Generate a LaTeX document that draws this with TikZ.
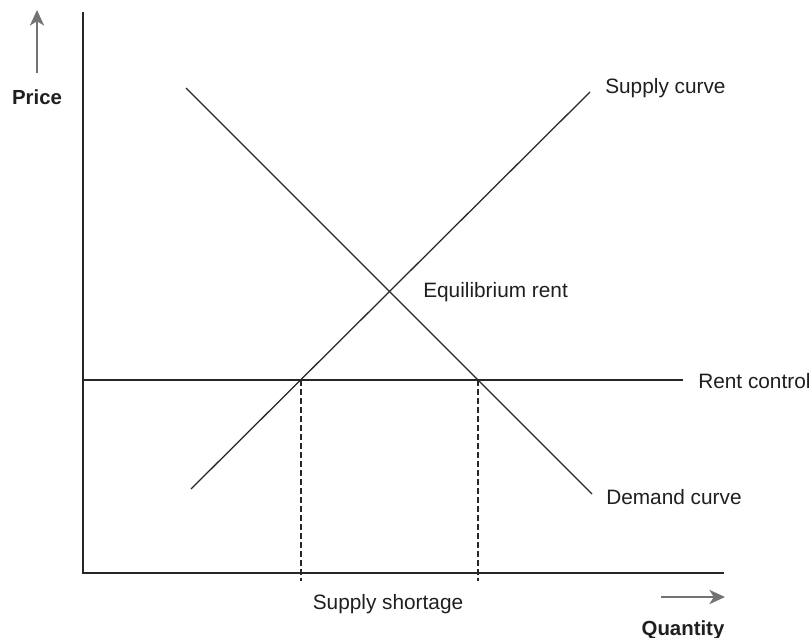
\documentclass[tikz,border=0pt]{standalone}
\usepackage{fontspec}
\setmainfont{Liberation Sans}
\usetikzlibrary{arrows.meta}
\begin{document}
\begin{tikzpicture}
	    [x=0.025cm, y=-0.025cm,
	    curve/.style={line width=0.9pt, draw=black!85},
	    guide/.style={line width=0.8pt, draw=black!85, dash pattern=on 4pt off 2.4pt},
	    axisarrow/.style={line width=1.8pt, draw=black!55, -{Stealth[length=11pt, width=10pt, inset=3pt]}},
	    lbl/.style={inner sep=0pt, text=black!88, font=\fontsize{14.8}{17}\selectfont},
	    axlbl/.style={inner sep=0pt, text=black!88, font=\fontsize{14.5}{17}\selectfont\bfseries}]
	    \useasboundingbox (0,0) rectangle (811,638);
	    % \draw[step=50,gray,very thin] (0,0) grid (811,638);
	    \coordinate (O)    at (83,573);
	    \coordinate (ytop) at (83,12);
	    \coordinate (xend) at (724,573);
	    \coordinate (S1)   at (191,489);
	    \coordinate (S2)   at (590,92);
	    \coordinate (D1)   at (186,88);
	    \coordinate (D2)   at (592,494);
	    \coordinate (R1)   at (83,380);
	    \coordinate (R2)   at (683,380);
	    \coordinate (Q1)   at (301,380);
	    \coordinate (Q2)   at (478,380);
	    \coordinate (Q1b)  at (301,581);
	    \coordinate (Q2b)  at (478,581);
	    \coordinate (P1)   at (37,73);
	    \coordinate (P2)   at (37,10);
	    \coordinate (X1)   at (661,597);
	    \coordinate (X2)   at (725,597);
	    \node[axlbl] (price) at (37,97)  {Price};
	    \node[axlbl] (qty)   at (683,630) {Quantity};
	    \node[lbl, anchor=west] (supply) at (605,88)  {Supply curve};
	    \node[lbl, anchor=west] (equi)   at (423,292) {Equilibrium rent};
	    \node[lbl, anchor=west] (rent)   at (698,381) {Rent control};
	    \node[lbl, anchor=west] (demand) at (606,497) {Demand curve};
	    \node[lbl] (short) at (388,604) {Supply shortage};
	    \draw[curve] (ytop) -- (O) -- (xend);
	    \draw[curve] (S1) -- (S2);
	    \draw[curve] (D1) -- (D2);
	    \draw[curve] (R1) -- (R2);
	    \draw[guide] (Q1) -- (Q1b);
	    \draw[guide] (Q2) -- (Q2b);
	    \draw[axisarrow] (P1) -- (P2);
	    \draw[axisarrow] (X1) -- (X2);
	\end{tikzpicture}
\end{document}
